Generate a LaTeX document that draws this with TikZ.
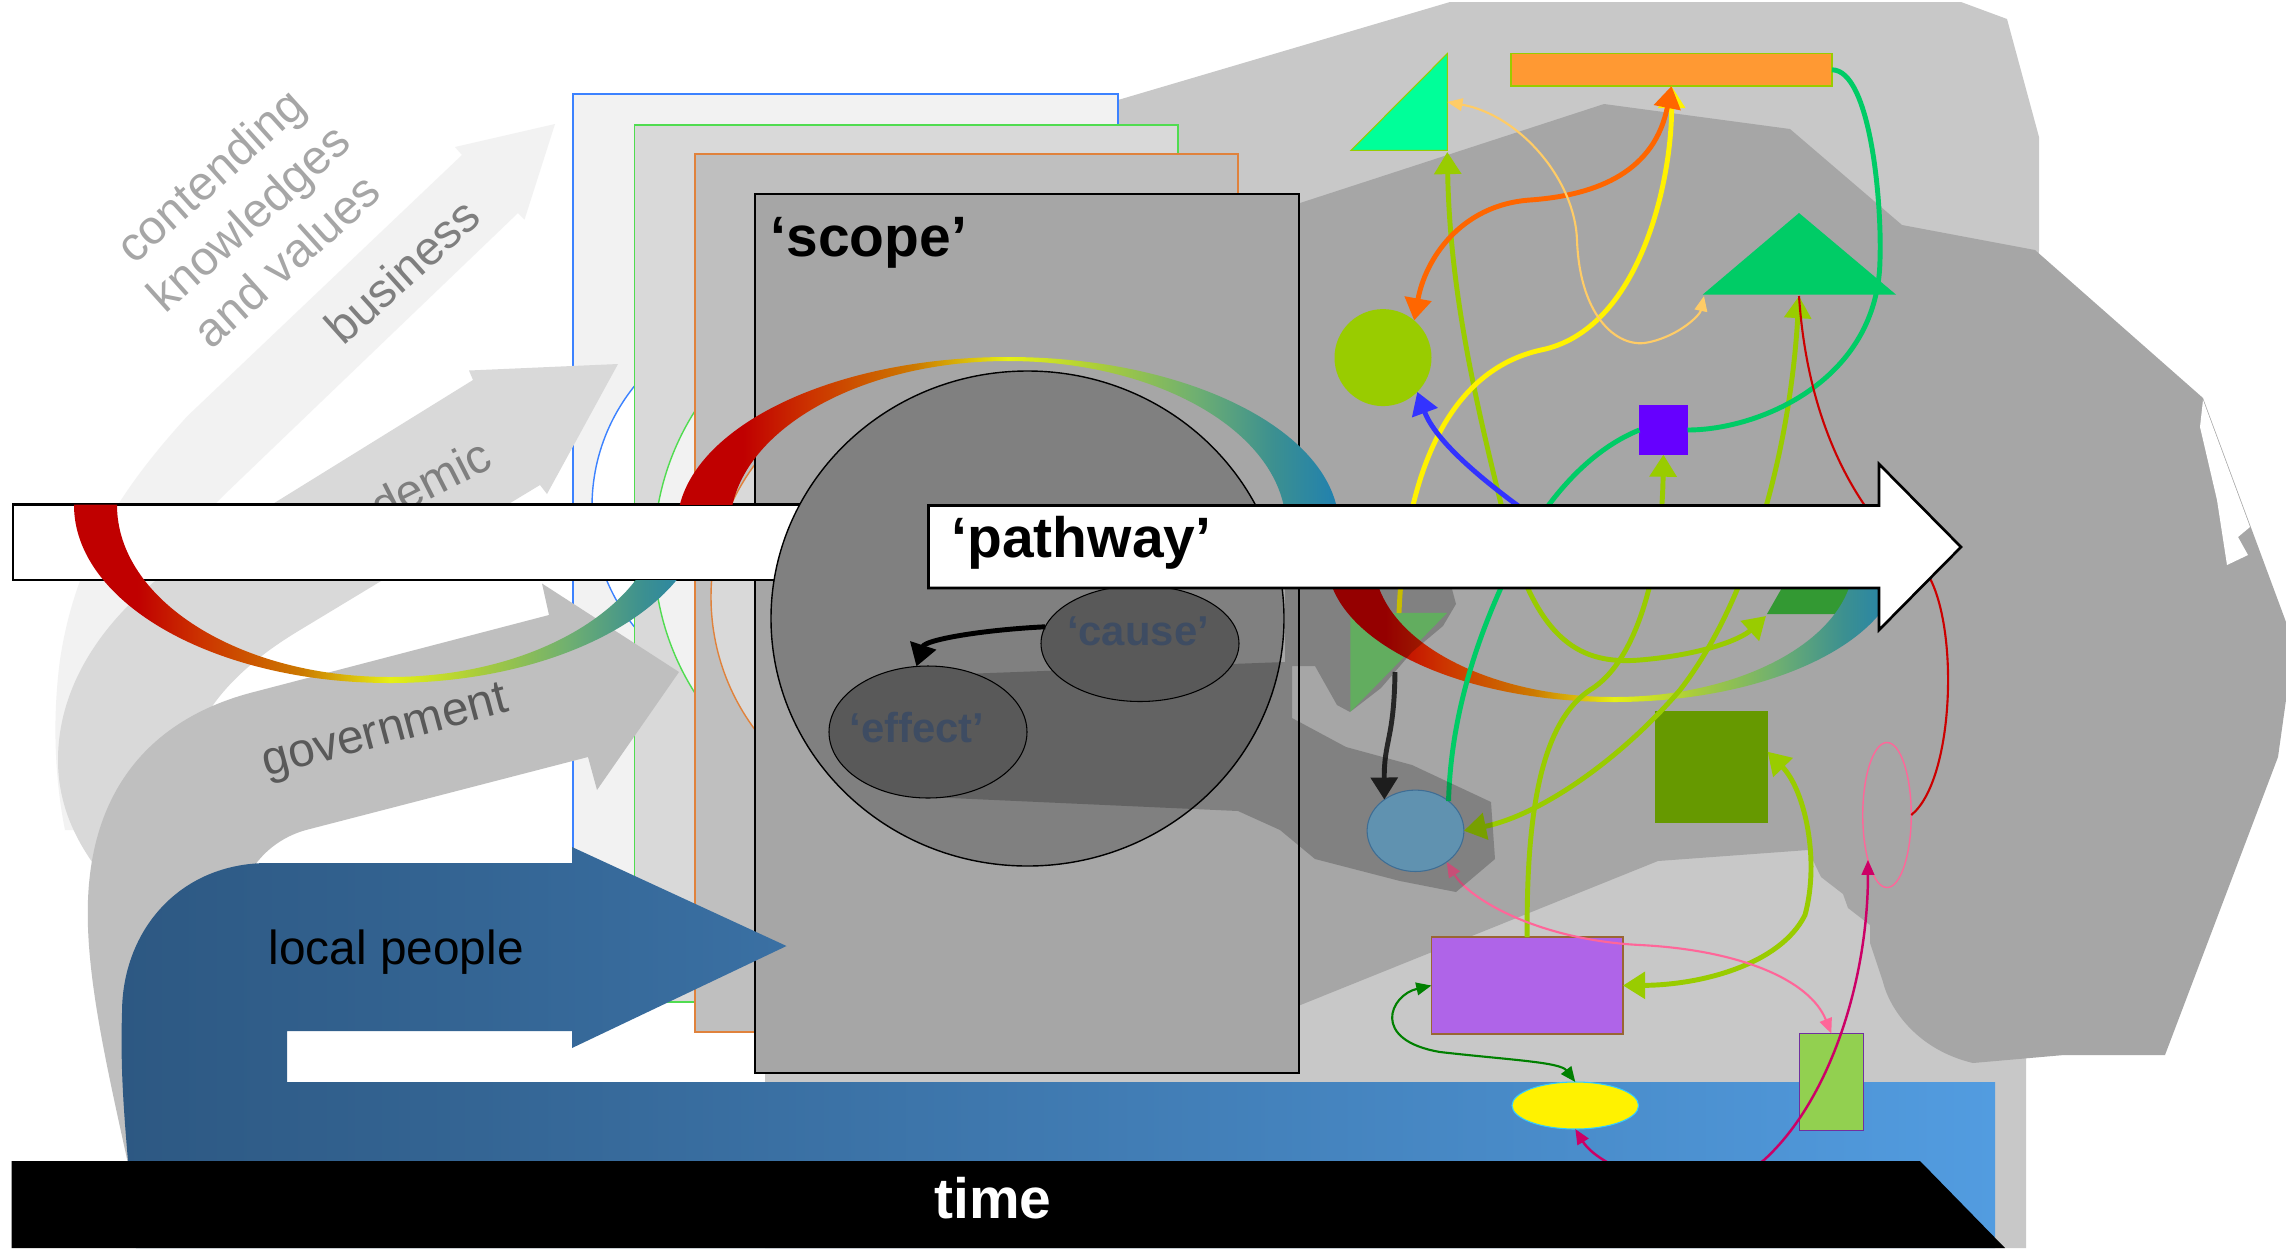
\documentclass[tikz,border=0pt]{standalone}
\usepackage{fontspec}
\setmainfont{Liberation Sans}
\usetikzlibrary{arrows.meta,shapes.geometric}

% greys of the landscape and the frames
\definecolor{paleGray}{RGB}{242,242,242}
\definecolor{lightGray}{RGB}{217,217,217}
\definecolor{midGray}{RGB}{191,191,191}
\definecolor{scopeGray}{RGB}{166,166,166}
\definecolor{landGray}{RGB}{200,200,200}
\definecolor{circGray}{RGB}{128,128,128}
\definecolor{ellGray}{RGB}{89,89,89}
\definecolor{labelSlate}{RGB}{62,76,98}
\definecolor{frameBlue}{RGB}{60,130,255}
\definecolor{frameGreen}{RGB}{80,220,80}
\definecolor{frameOrange}{RGB}{224,130,60}
\definecolor{txtLight}{RGB}{166,166,166}
\definecolor{txtMid}{RGB}{127,127,127}
\definecolor{txtDark}{RGB}{89,89,89}
\definecolor{peopleL}{RGB}{45,88,130}
\definecolor{peopleR}{RGB}{82,156,224}
% ring
\definecolor{ringred}{RGB}{192,0,0}
\definecolor{ringred2}{RGB}{204,51,0}
\definecolor{ringorange}{RGB}{204,122,0}
\definecolor{ringyellow}{RGB}{230,240,20}
\definecolor{ringlime}{RGB}{168,204,60}
\definecolor{ringgreen}{RGB}{112,176,112}
\definecolor{ringteal}{RGB}{60,144,144}
\definecolor{ringblue}{RGB}{32,128,176}
% shapes and links
\definecolor{orangeBar}{RGB}{255,153,51}
\definecolor{mint}{RGB}{0,255,153}
\definecolor{emerald}{RGB}{0,204,102}
\definecolor{yg}{RGB}{153,204,0}
\definecolor{violetSq}{RGB}{102,0,255}
\definecolor{paleGreen}{RGB}{126,222,122}
\definecolor{leafGreen}{RGB}{51,153,51}
\definecolor{oliveSq}{RGB}{102,153,0}
\definecolor{lilac}{RGB}{175,100,232}
\definecolor{lime}{RGB}{146,208,80}
\definecolor{skyBlue}{RGB}{124,188,226}
\definecolor{lnOrange}{RGB}{255,102,0}
\definecolor{lnPeach}{RGB}{255,204,102}
\definecolor{lnBlue}{RGB}{51,51,255}
\definecolor{lnRed}{RGB}{204,0,0}
\definecolor{lnBlack}{RGB}{38,38,38}
\definecolor{lnPink}{RGB}{255,102,153}
\definecolor{lnGreen}{RGB}{0,128,0}
\definecolor{lnCrimson}{RGB}{204,0,102}

\pgfdeclarehorizontalshading{rainbow}{100bp}{color(0bp)=(ringred); color(30bp)=(ringred);
  color(35bp)=(ringred2); color(43bp)=(ringorange); color(50bp)=(ringyellow);
  color(57bp)=(ringlime); color(64bp)=(ringgreen); color(70bp)=(ringteal);
  color(75bp)=(ringblue); color(100bp)=(ringblue)}

\begin{document}
\begin{tikzpicture}[x=0.1mm,y=-0.1mm,
  txt/.style={inner sep=0pt,font=\fontsize{13.6}{16.3}\selectfont},
  bigtxt/.style={inner sep=0pt,font=\bfseries\fontsize{16.2}{19.4}\selectfont},
  ovltxt/.style={inner sep=0pt,text=labelSlate,font=\bfseries\fontsize{11.9}{14}\selectfont},
  shp/.style={inner sep=0pt,outer sep=0pt,line width=0.3pt},
  frm/.style={line width=0.4pt},
  ln/.style={line width=1.4pt},
  fine/.style={line width=0.6pt},
  arrA/.style={-{Triangle[length=6.3pt,width=7.5pt]}},
  arrAA/.style={{Triangle[length=6.3pt,width=7.5pt]}-{Triangle[length=6.3pt,width=7.5pt]}},
  arrB/.style={-{Triangle[length=4.3pt,width=3.6pt]}},
  arrBB/.style={{Triangle[length=4.3pt,width=3.6pt]}-{Triangle[length=4.3pt,width=3.6pt]}}
]
\fill[white] (0,0) rectangle (2286,1248);
\useasboundingbox (0,0) rectangle (2286,1248);
% ---------- landscape behind ----------
\fill[landGray] (765,1248) -- (765,200) -- (1118,100) -- (1450,2) -- (1961,2) -- (2007,19)
  -- (2039,137) -- (2039,250) -- (2026,1055) -- (2026,1248) -- cycle;
\fill[scopeGray] (1298,1006) -- (1300,203) -- (1604,104) -- (1790,129) -- (1902,225) -- (2035,250)
  -- (2203,398) -- (2286,622) -- (2286,700) -- (2278,757) -- (2165,1055) -- (2064,1055)
  -- (1973,1063) .. controls (1918,1050) and (1890,1010) .. (1883,982) -- (1870,943)
  -- (1870,925) -- (1848,908) -- (1843,894) -- (1821,877) -- (1808,850) -- (1658,861) -- cycle;
\fill[white] (2203,400) -- (2200,427) -- (2217,500) -- (2227,565) -- (2248,555) -- (2238,537)
  -- (2250,527) -- cycle;
% ---------- stacked frames ----------
\filldraw[fill=paleGray,draw=frameBlue,frm] (573,94) rectangle (1118,1000);
\filldraw[fill=white,draw=frameBlue,frm] (784,506.5) circle[radius=192];
\filldraw[fill=lightGray,draw=frameGreen,frm] (634.5,125) rectangle (1178,1002);
\filldraw[fill=paleGray,draw=frameGreen,frm] (917,552) circle[radius=263];
\filldraw[fill=midGray,draw=frameOrange,frm] (695,154) rectangle (1238,1032);
\filldraw[fill=lightGray,draw=frameOrange,frm] (933,597) circle[radius=222];
\filldraw[fill=scopeGray,draw=black,frm] (755,194) rectangle (1299,1073);
\node[bigtxt,anchor=base west] (scopelbl) at (770,256.5) {‘scope’};
% ---------- actor arrows ----------
\fill[paleGray] (462,155) -- (455,147) -- (555,124) -- (524.5,219.6) -- (518,213) -- (223,496)
  .. controls (170,550) and (140,600) .. (130,700) -- (130,830) -- (65,830)
  .. controls (55,780) and (52,720) .. (60,660) .. controls (75,560) and (120,490) .. (187.5,416) -- cycle;
\node[txt,rotate=42,text=txtLight,align=center] (kvlbl) at (248,217.5) {contending\\knowledges\\and values};
\node[txt,rotate=42,text=txtMid] (buslbl) at (402,271) {business};
\fill[lightGray] (473,380) -- (469,370.5) -- (618,364) -- (547,494) -- (540,485) -- (300,630)
  .. controls (230,672) and (190,720) .. (185,780) -- (190,885) -- (110,885)
  .. controls (80,850) and (58,810) .. (58,760) .. controls (58,680) and (110,605) .. (200,549) -- cycle;
\node[txt,anchor=base west,rotate=27,text=txtMid] (acadlbl) at (312,560) {academic};
\fill[midGray] (549,615) -- (542,583.5) -- (679,672) -- (597,790) -- (588,757) -- (306,830)
  .. controls (270,840) and (240,870) .. (235,920) -- (240,1200) -- (136,1200)
  .. controls (110,1080) and (85,980) .. (88,900) .. controls (92,790) and (150,720) .. (250,693) -- cycle;
\node[txt,anchor=base west,rotate=15,text=txtDark] (govlbl) at (266,777) {government};
\shade[left color=peopleL,right color=peopleR] (1995,1248) -- (1995,1082) -- (287,1082) -- (287,1031)
  -- (572,1031) -- (572,1048) -- (786.5,946) -- (572,847) -- (572,863) -- (268,863)
  .. controls (180,863) and (122,930) .. (122,1013) .. controls (120,1080) and (125,1130) .. (136,1248) -- cycle;
\node[txt,anchor=base west] (locallbl) at (268,964) {local people};
% ---------- pathway (left part) and scope circle ----------
\filldraw[fill=white,draw=black,line width=0.75pt] (13,504.5) rectangle (830,580);
\filldraw[fill=circGray,draw=black,line width=0.4pt] (1027.5,618.5) ellipse[x radius=256.5,y radius=247.5];
% ---------- elements on the right ----------
\coordinate (tri-br) at (1447.3,152);
\coordinate (tri-r) at (1447.3,102);
\coordinate (gt-base) at (1799,296);
\coordinate (gt-left) at (1704,296);
\coordinate (gtri-top) at (1399,613);
\coordinate (gtri-foot) at (1395,672);
\coordinate (para-bl) at (1766,616);
\coordinate (blue-src) at (1545,525);
\filldraw[fill=mint,draw=yg,shp] (1351,150.4) -- (1447.3,53.6) -- (1447.3,150.4) -- cycle;
\fill[emerald] (1799,213) -- (1702.7,294.6) -- (1896,294.6) -- cycle;
\fill[paleGreen] (1350.4,612.8) -- (1447.2,612.8) -- (1350.4,711.8) -- cycle;
\fill[leafGreen] (1767,614) -- (1795,565) -- (1867,565) -- (1840,614) -- cycle;
\node[shp,draw=yg,fill=orangeBar,minimum width=32.1mm,minimum height=3.24mm] (orect) at (1671.5,69.8) {};
\node[shp,circle,fill=yg,minimum size=9.7mm] (ygc) at (1383,357.6) {};
\node[shp,fill=violetSq,minimum width=4.82mm,minimum height=4.91mm] (vsq) at (1663.4,430) {};
\node[shp,fill=oliveSq,minimum width=11.26mm,minimum height=11.25mm] (dgsq) at (1711.3,766.8) {};
\node[shp,ellipse,draw=lnPink,line width=0.4pt,minimum width=4.85mm,minimum height=14.5mm] (pell) at (1887,815) {};
\node[shp,draw={rgb,255:red,153;green,102;blue,51},fill=lilac,minimum width=19.16mm,minimum height=9.7mm] (prect) at (1527.2,985.5) {};
\node[shp,draw={rgb,255:red,112;green,48;blue,160},fill=lime,minimum width=6.45mm,minimum height=9.65mm] (sgr) at (1831.3,1081.8) {};
\node[shp,ellipse,draw={rgb,255:red,80;green,140;blue,190},fill=skyBlue,minimum width=9.68mm,minimum height=8.14mm] (bcirc) at (1415.5,830.8) {};
\node[shp,ellipse,draw={rgb,255:red,51;green,204;blue,255},fill=yellow,minimum width=12.66mm,minimum height=4.7mm] (yell) at (1575.3,1105.5) {};
% lower ring, partly under the pathway
\begin{scope}
  \clip (1300,560) rectangle (1950,750);
  \shade[shading=rainbow,even odd rule] (1614,560) ellipse[x radius=287,y radius=142]
    (1614,560) ellipse[x radius=240,y radius=137];
\end{scope}
% links
\draw[ln,yg,arrAA] (tri-br) .. controls (1450,300) and (1480,420) .. (1510,540)
  .. controls (1540,640) and (1580,665) .. (1640,660) .. controls (1700,655) and (1740,640) .. (para-bl);
\draw[ln,yg,arrA] (prect.north) .. controls (1526,800) and (1545,720) .. (1590,690)
  .. controls (1640,660) and (1662,560) .. (vsq.south);
\draw[ln,yg,arrAA] (gt-base) .. controls (1790,450) and (1750,600) .. (1680,690)
  .. controls (1620,760) and (1540,815) .. (bcirc.east);
\draw[ln,yg,arrAA] (dgsq.15) .. controls (1805,790) and (1820,860) .. (1805,915)
  .. controls (1780,965) and (1700,985) .. (prect.east);
\draw[ln,emerald] (orect.east) .. controls (1870,70) and (1882,200) .. (1880,260)
  .. controls (1878,380) and (1760,430) .. (vsq.east);
\draw[ln,emerald] (vsq.west) .. controls (1590,450) and (1540,500) .. (1500,590)
  .. controls (1460,680) and (1450,750) .. (bcirc.42);
\draw[ln,yellow,arrA] (gtri-top) .. controls (1405,470) and (1450,370) .. (1541,350)
  .. controls (1640,330) and (1672,180) .. (orect.south);
\draw[ln,lnOrange,arrAA] (orect.south) .. controls (1655,170) and (1600,195) .. (1530,200)
  .. controls (1460,205) and (1425,260) .. (ygc.50);
\draw[fine,lnPeach,arrBB] (tri-r) .. controls (1520,115) and (1575,180) .. (1577,240)
  .. controls (1580,320) and (1620,350) .. (1650,342) .. controls (1680,335) and (1700,315) .. (gt-left);
\draw[ln,lnBlue,arrA] (blue-src) .. controls (1480,480) and (1435,440) .. (ygc.-45);
\draw[fine,lnRed] (gt-base) .. controls (1808,430) and (1860,520) .. (1925,570)
  .. controls (1960,620) and (1955,780) .. (pell.east);
\draw[ln,lnBlack,arrA] (gtri-foot) .. controls (1394,740) and (1384,740) .. (bcirc.135);
\draw[fine,lnPink,arrBB] (bcirc.-45) .. controls (1470,900) and (1540,940) .. (1640,945)
  .. controls (1740,950) and (1810,980) .. (sgr.north);
\draw[fine,lnGreen,arrBB] (prect.west) .. controls (1390,995) and (1370,1040) .. (1440,1052)
  .. controls (1510,1060) and (1560,1062) .. (yell.north);
\draw[line width=0.7pt,lnCrimson,arrBB] (yell.south) .. controls (1600,1170) and (1700,1210) .. (1764,1160)
  .. controls (1830,1100) and (1868,980) .. (pell.-113);
% ---------- shadow of cause and effect ----------
\fill[black,fill opacity=0.22] (963,674) -- (1285,662) -- (1285,589) -- (1452,589) -- (1456,604)
  -- (1443,626) -- (1412,652) -- (1381,688) -- (1350,712) -- (1337,705) -- (1315,666) -- (1292,666)
  -- (1292,718) -- (1346,747) -- (1412,765) -- (1491,802) -- (1495,859) -- (1456,892) -- (1400,881)
  -- (1315,859) -- (1280,830) -- (1238,811) -- (928,797) -- cycle;
\node[shp,ellipse,draw=black,fill=ellGray,minimum width=19.8mm,minimum height=11.6mm] (cause) at (1140,643.5) {};
\node[shp,ellipse,draw=black,fill=ellGray,minimum width=19.8mm,minimum height=13.2mm] (effect) at (928,732) {};
\node[ovltxt,anchor=base] (causelbl) at (1138,645) {‘cause’};
\node[ovltxt,anchor=base] (effectlbl) at (917,742.5) {‘effect’};
\draw[ln,black,arrA] (cause.170) .. controls (980,630) and (925,640) .. (effect.100);
% ---------- rainbow ring ----------
\begin{scope}
  \clip (0,504.5) -- (400,504.5) -- (400,580) -- (800,580) -- (800,800) -- (0,800) -- cycle;
  \shade[shading=rainbow,even odd rule] (390,505) ellipse[x radius=316,y radius=178]
    (390,505) ellipse[x radius=273,y radius=172];
\end{scope}
\begin{scope}
  \clip (600,300) rectangle (1400,504.5);
  \shade[shading=rainbow,even odd rule] (1008,527) ellipse[x radius=331,y radius=170]
    (1008,527) ellipse[x radius=278,y radius=166];
\end{scope}
% ---------- pathway and time ----------
\filldraw[fill=white,draw=black,line width=0.75pt] (928.5,505.5) -- (1879,505.5) -- (1879,464)
  -- (1961,547) -- (1879,630) -- (1879,588) -- (928.5,588) -- cycle;
\node[bigtxt,anchor=base west] (pathlbl) at (951,557.5) {‘pathway’};
\fill[black] (11.5,1161) -- (1920,1161) -- (2005,1248) -- (11.5,1248) -- cycle;
\node[bigtxt,anchor=base,text=white] (timelbl) at (993,1218) {time};
\end{tikzpicture}
\end{document}
